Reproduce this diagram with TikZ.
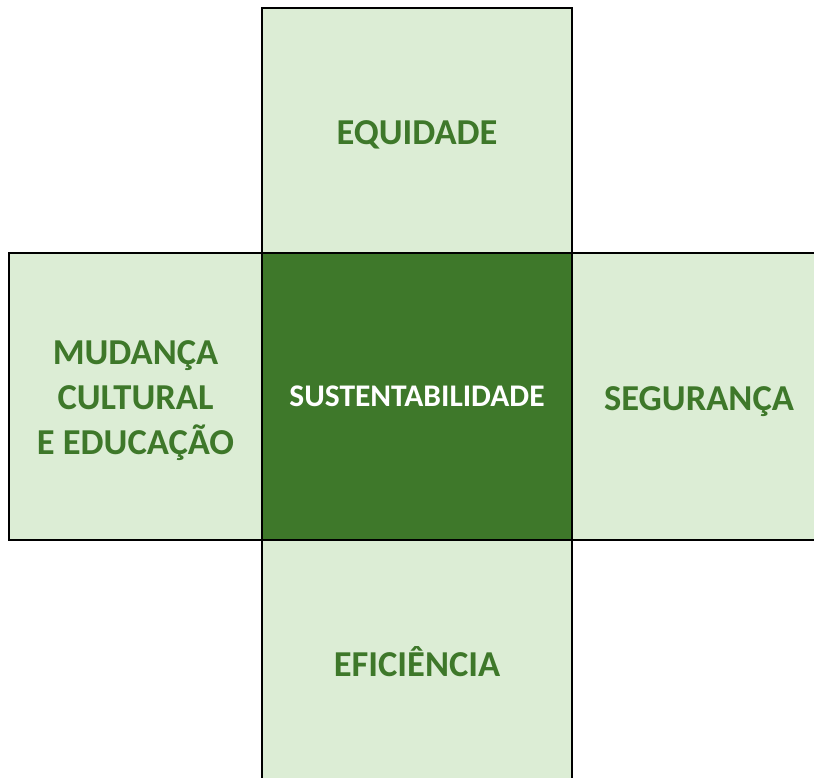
\documentclass[tikz,border=0pt]{standalone}
\usepackage{fontspec}
\setmainfont{Carlito}
\usetikzlibrary{positioning}
\definecolor{darkgreen}{HTML}{3E782A}
\definecolor{lightgreen}{HTML}{DCEDD5}

\begin{document}
\begin{tikzpicture}[x=1pt,y=-1pt,
    box/.style = {draw=black,line width=1.2pt,outer sep=0pt,inner sep=0pt,align=center,
                  fill=lightgreen,text=darkgreen,font=\fontsize{36.5}{45}\selectfont\bfseries},
    oneline/.style = {box,text height=28.5pt,text depth=0pt},
    core/.style = {box,fill=darkgreen,text=white,font=\fontsize{31.5}{38}\selectfont\bfseries}]
    \useasboundingbox (0,0) rectangle (814,778);
    \clip (0,0) rectangle (814,778);

    \node[core,minimum width=310pt,minimum height=287pt] (sustentabilidade) at (417,396.5) {SUSTENTABILIDADE};
    \node[oneline,minimum width=310pt,minimum height=245pt,above=0pt of sustentabilidade] (equidade) {EQUIDADE};
    \node[box,minimum width=310pt,minimum height=244pt,below=0pt of sustentabilidade] (eficiencia) {EFICIÊNCIA};
    \node[box,minimum width=253pt,minimum height=287pt,left=0pt of sustentabilidade] (mudanca) {\rule{0pt}{31.5pt}MUDANÇA\\CULTURAL\\E EDUCAÇÃO};
    \node[oneline,minimum width=254pt,minimum height=287pt,right=0pt of sustentabilidade] (seguranca) {SEGURANÇA};
\end{tikzpicture}
\end{document}
